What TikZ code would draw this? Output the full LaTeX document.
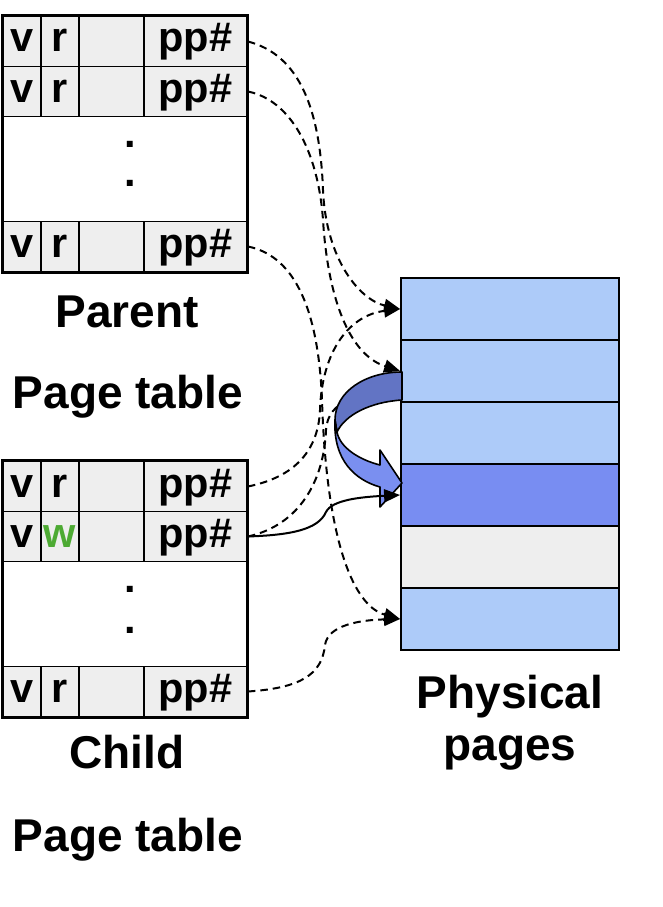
\documentclass[tikz,border=0pt]{standalone}
\usepackage{fontspec}
\setmainfont{Liberation Sans}
\usetikzlibrary{arrows.meta}
\definecolor{cellgray}{HTML}{EEEEEE}
\definecolor{pblue}{HTML}{ADCBF9}
\definecolor{pdark}{HTML}{788DF2}
\definecolor{rdark}{HTML}{6274C4}
\definecolor{rlight}{HTML}{7A8FF0}
\definecolor{wgreen}{HTML}{4DAA33}
\begin{document}
\begin{tikzpicture}[x=1pt,y=-1pt,
  cell/.style={draw, line width=1.8pt, fill=cellgray, minimum height=50pt, inner sep=0pt,
    text height=29pt, text depth=8pt, font=\fontsize{41.5}{45}\selectfont\bfseries},
  cA/.style={cell, minimum width=38pt},
  cB/.style={cell, minimum width=65pt},
  cC/.style={cell, minimum width=103pt},
  midbox/.style={draw, line width=1.8pt, fill=white, minimum width=244pt, minimum height=105pt, inner sep=0pt},
  dotnode/.style={font=\fontsize{41.5}{45}\selectfont\bfseries, inner sep=0pt, anchor=base},
  outerbox/.style={line width=3pt},
  lab/.style={font=\fontsize{46}{50}\selectfont\bfseries, anchor=base, inner sep=0pt},
  pagebox/.style={draw, line width=1.8pt, minimum width=218pt, minimum height=62pt, inner sep=0pt},
  ptr/.style={line width=2pt, dash pattern=on 7.5pt off 5pt, -{Triangle[length=16pt,width=13pt]}},
  ptrplain/.style={line width=2pt, dash pattern=on 7.5pt off 5pt},
  solidptr/.style={line width=2pt, -{Triangle[length=16pt,width=13pt]}},
  ribbon/.style={draw, line width=1.6pt, line join=round}
]
\useasboundingbox (0,0) rectangle (662,907);

% physical pages
\node[pagebox, fill=pblue] (pg1) at (510,309) {};
\node[pagebox, fill=pblue] (pg2) at (510,371) {};
\node[pagebox, fill=pblue] (pg3) at (510,433) {};
\node[pagebox, fill=pdark] (pg4) at (510,495) {};
\node[pagebox, fill=cellgray] (pg5) at (510,557) {};
\node[pagebox, fill=pblue] (pg6) at (510,619) {};
\node[lab] (physlab) at (510,708) {Physical};
\node[lab] (pageslab) at (510,760) {pages};

% parent page table
\node[cA] (pv1) at (22,41.5) {v};
\node[cA] (pf1) at (60,41.5) {r};
\node[cB] (pe1) at (111.5,41.5) {};
\node[cC] (pr1) at (195.5,41.5) {pp\#};
\node[cA] (pv2) at (22,91.5) {v};
\node[cA] (pf2) at (60,91.5) {r};
\node[cB] (pe2) at (111.5,91.5) {};
\node[cC] (pr2) at (195.5,91.5) {pp\#};
\node[midbox] (pmid) at (125,169) {};
\node[dotnode] (pdot1) at (130.5,147) {.};
\node[dotnode] (pdot2) at (130.5,186) {.};
\node[cA] (pv3) at (22,246.5) {v};
\node[cA] (pf3) at (60,246.5) {r};
\node[cB] (pe3) at (111.5,246.5) {};
\node[cC] (pr3) at (195.5,246.5) {pp\#};
\draw[outerbox] (pv1.north west) rectangle (pr3.south east);
\node[lab] (plab1) at (127,327) {Parent};
\node[lab] (plab2) at (128,408) {Page table};

% child page table
\node[cA] (cv1) at (22,486.5) {v};
\node[cA] (cf1) at (60,486.5) {r};
\node[cB] (ce1) at (111.5,486.5) {};
\node[cC] (cr1) at (195.5,486.5) {pp\#};
\node[cA] (cv2) at (22,536.5) {v};
\node[cA] (cf2) at (60,536.5) {\textcolor{wgreen}{w}};
\node[cB] (ce2) at (111.5,536.5) {};
\node[cC] (cr2) at (195.5,536.5) {pp\#};
\node[midbox] (cmid) at (125,614) {};
\node[dotnode] (cdot1) at (130.5,592) {.};
\node[dotnode] (cdot2) at (130.5,633) {.};
\node[cA] (cv3) at (22,691.5) {v};
\node[cA] (cf3) at (60,691.5) {r};
\node[cB] (ce3) at (111.5,691.5) {};
\node[cC] (cr3) at (195.5,691.5) {pp\#};
\draw[outerbox] (cv1.north west) rectangle (cr3.south east);
\node[lab] (clab1) at (127,768) {Child};
\node[lab] (clab2) at (128,851) {Page table};

% old child mapping, hidden under the copy arrow
\coordinate (hid) at (350,400);
\draw[ptrplain] (cr2.east) .. controls (300,525) and (324,480) .. (326,430)
  .. controls (327,415) and (335,405) .. (hid);

% copy ribbon arrow
\path[ribbon, fill=rdark] (402,372) .. controls (365,372) and (335,392) .. (335,420)
  -- (337,432) .. controls (345,415) and (370,402) .. (402,400) -- cycle;
\path[ribbon, fill=rlight] (335,420) .. controls (333,460) and (355,480) .. (380,487)
  -- (380,507) -- (402,483) -- (380,450) -- (380,465)
  .. controls (360,460) and (340,448) .. (337,432) -- cycle;

% mappings
\draw[ptr] (pr1.east) .. controls (300,55) and (320,110) .. (323,190)
  .. controls (326,260) and (360,300) .. (pg1.west);
\draw[ptr] (pr2.east) .. controls (290,100) and (318,150) .. (323,220)
  .. controls (328,300) and (350,355) .. (pg2.west);
\draw[ptr] (pr3.east) .. controls (290,255) and (318,300) .. (322,400)
  .. controls (326,530) and (350,605) .. (pg6.west);
\draw[ptr] (cr1.east) .. controls (290,478) and (318,455) .. (320,410)
  .. controls (322,350) and (350,315) .. (pg1.west);
\draw[ptr] (cr3.east) .. controls (300,688) and (322,675) .. (325,645)
  .. controls (328,625) and (360,620) .. (pg6.west);
\draw[solidptr] (cr2.east) .. controls (290,535) and (318,530) .. (326,512)
  .. controls (332,500) and (360,497) .. (pg4.west);
\end{tikzpicture}
\end{document}
